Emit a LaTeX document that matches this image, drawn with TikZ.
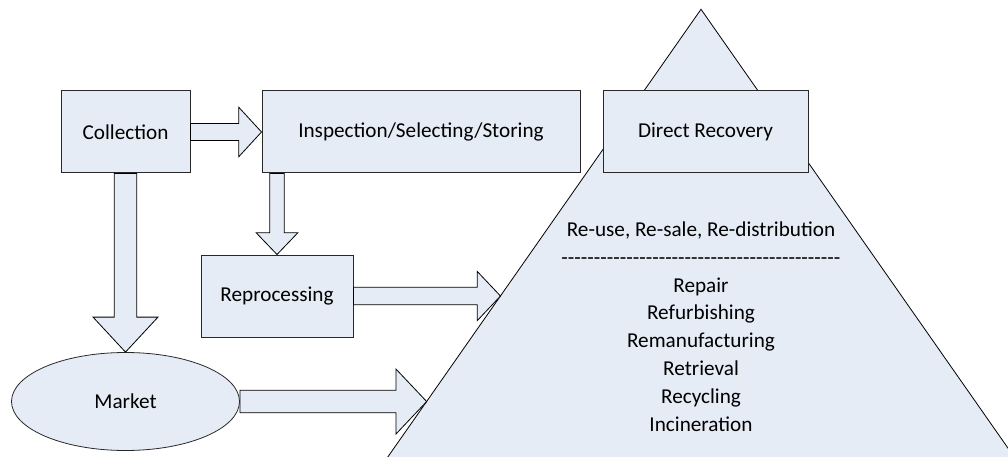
\documentclass[tikz,border=0pt]{standalone}
\usepackage{fontspec}
\setmainfont{Carlito}
\newfontfamily\rulefont{Carlito}[Ligatures=TeXOff]
\usetikzlibrary{shapes.geometric,calc}
\definecolor{boxfill}{RGB}{230,236,246}
\definecolor{edge}{RGB}{40,40,40}
% block arrow pointing right: start, tip, shaft half-width, head half-width, head length
\newcommand\harrow[5]{%
  \draw[blk] let \p1=(#1), \p2=(#2) in
    (\x1,\y2+#3) -- (\x2-#5,\y2+#3) -- (\x2-#5,\y2+#4) -- (\x2,\y2)
    -- (\x2-#5,\y2-#4) -- (\x2-#5,\y2-#3) -- (\x1,\y2-#3) -- cycle;}
% block arrow pointing down: start, tip, shaft half-width, head half-width, head length
\newcommand\varrow[5]{%
  \draw[blk] let \p1=(#1), \p2=(#2) in
    (\x2-#3,\y1) -- (\x2-#3,\y2+#5) -- (\x2-#4,\y2+#5) -- (\x2,\y2)
    -- (\x2+#4,\y2+#5) -- (\x2+#3,\y2+#5) -- (\x2+#3,\y1) -- cycle;}
\begin{document}
\begin{tikzpicture}[x=1pt,y=-1pt,
  every node/.style={font=\fontsize{21.2}{27.8}\selectfont},
  box/.style={draw=edge,fill=boxfill,line width=1pt,rectangle,inner sep=0pt,minimum height=82pt},
  oval/.style={draw=edge,fill=boxfill,line width=0.8pt,ellipse,inner sep=0pt},
  blk/.style={draw=black,fill=boxfill,line width=0.8pt,line join=miter},
]
\useasboundingbox (0,0) rectangle (1008,457);

% recovery pyramid, running past the right and bottom edges
\coordinate (apex) at (701,9.3);
\coordinate (baseL) at (378.7,470);
\coordinate (baseR) at (1023.3,470);
\begin{scope}
  \clip (0,0) rectangle (1008,457);
  \draw[blk] (apex) -- (baseR) -- (baseL) -- cycle;
\end{scope}

% process boxes
\node[box,minimum width=129pt] (coll) at (125.5,132) {Collection};
\node[box,minimum width=318pt] (insp) at (421,132) {Inspection/Selecting/Storing};
\node[box,minimum width=205pt] (direct) at (705.5,132) {Direct Recovery};
\node[box,minimum width=152pt] (repr) at (277,296) {Reprocessing};
\node[oval,minimum width=228pt,minimum height=98pt] (market) at (125.5,401.5) {Market};

% recovery options inside the pyramid
\node[align=center,inner sep=0pt] (options) at (701,326.5) {Re-use, Re-sale, Re-distribution\\
  {\rulefont -------------------------------------------}\\
  Repair\\Refurbishing\\Remanufacturing\\Retrieval\\Recycling\\Incineration};

% arrow tips on the pyramid's left side
\coordinate (rfar) at ([xshift=400pt]repr.east);
\coordinate (mfar) at ([xshift=400pt]market.east);
\coordinate (rtip) at (intersection of repr.east--rfar and apex--baseL);
\coordinate (mtip) at (intersection of market.east--mfar and apex--baseL);
\coordinate (itop) at (insp.south -| repr.north);

% block arrows
\harrow{coll.east}{insp.west}{8.5pt}{24.7pt}{22.7pt}
\varrow{coll.south}{market.north}{11.2pt}{32.5pt}{35pt}
\varrow{itop}{repr.north}{7.2pt}{20.8pt}{21.7pt}
\harrow{repr.east}{rtip}{8.7pt}{24.7pt}{23.3pt}
\harrow{market.east}{mtip}{11.3pt}{32.5pt}{30.7pt}
\end{tikzpicture}
\end{document}
